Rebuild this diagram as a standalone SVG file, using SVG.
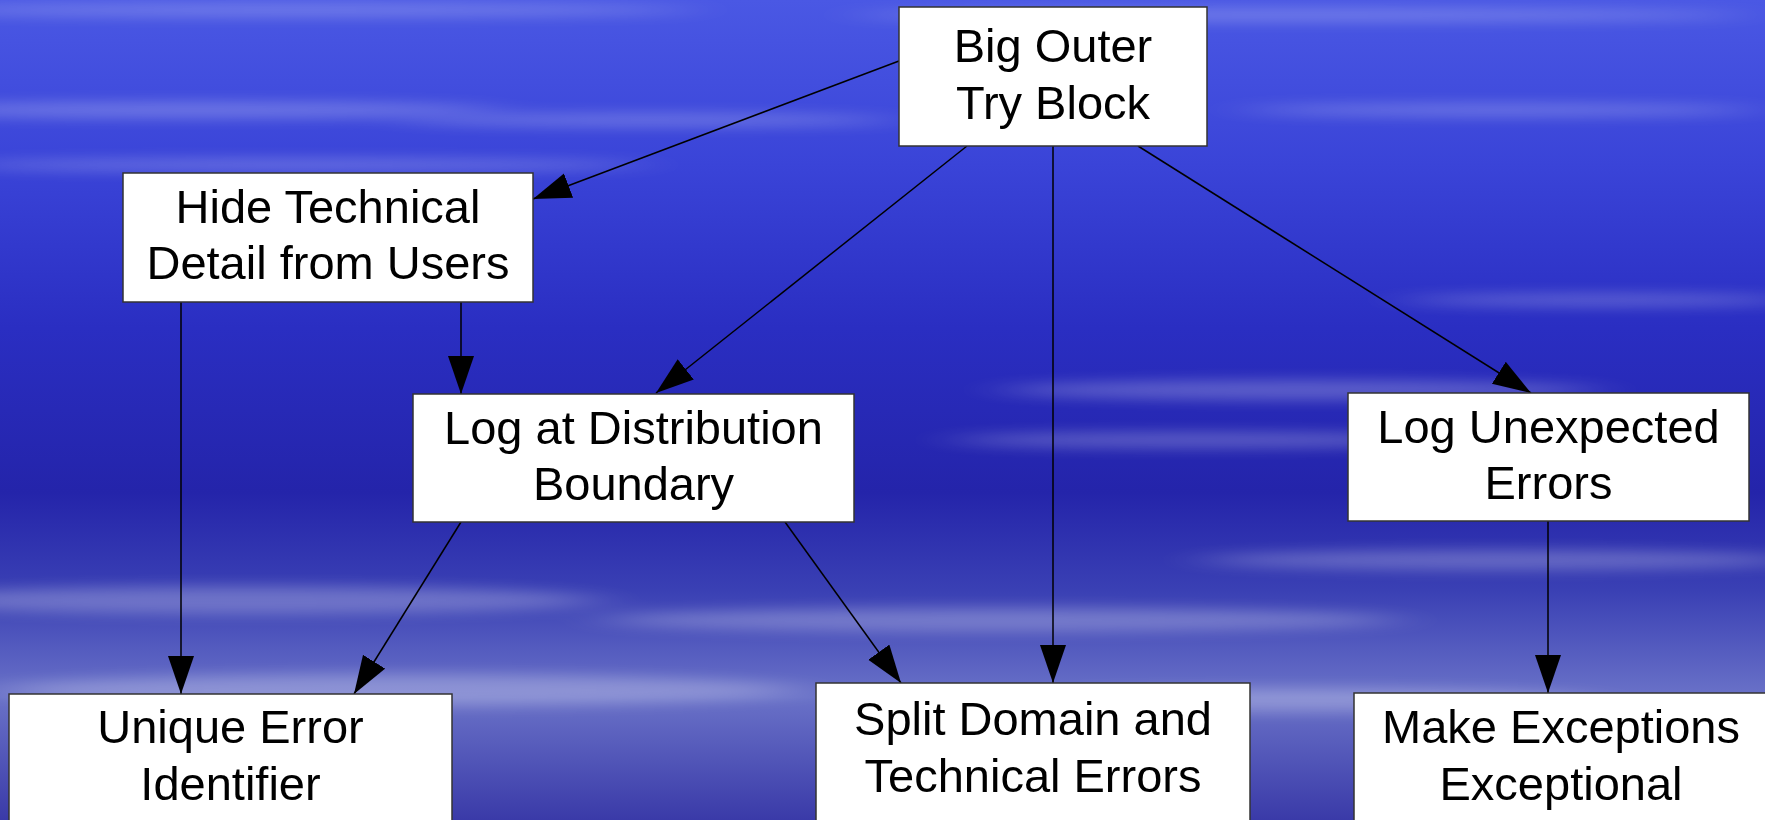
<svg xmlns="http://www.w3.org/2000/svg" width="1765" height="820" viewBox="0 0 1765 820">
<defs>
<linearGradient id="bg" x1="0" y1="0" x2="0" y2="1">
<stop offset="0" stop-color="#4a58e4"/>
<stop offset="0.2" stop-color="#3a44d8"/>
<stop offset="0.4" stop-color="#2a2ec2"/>
<stop offset="0.6" stop-color="#2424aa"/>
<stop offset="0.72" stop-color="#3a40b4"/>
<stop offset="0.85" stop-color="#6a72c8"/>
<stop offset="1" stop-color="#3a3aa8"/>
</linearGradient>
<filter id="blur" x="-30%" y="-300%" width="160%" height="700%">
<feGaussianBlur stdDeviation="30 7"/>
</filter>
<marker id="arr" markerUnits="userSpaceOnUse" markerWidth="40" markerHeight="28" refX="38" refY="13" orient="auto">
<path d="M0,0 L38,13 L0,26 Z" fill="#000"/>
</marker>
<style>
.box{fill:#fff;stroke:#333;stroke-width:1.5}
.lbl{font-family:"Liberation Sans",Arial,sans-serif;font-size:47px;fill:#000;text-anchor:middle}
.edge{stroke:#000;stroke-width:1.5;fill:none;marker-end:url(#arr)}
.st{fill:#fff;filter:url(#blur)}
</style>
</defs>
<rect x="0" y="0" width="1765" height="820" fill="url(#bg)"/>
<g id="streaks" opacity="0.25">
<ellipse class="st" cx="300" cy="10" rx="400" ry="6"/>
<ellipse class="st" cx="1300" cy="15" rx="450" ry="6"/>
<ellipse class="st" cx="200" cy="110" rx="300" ry="8"/>
<ellipse class="st" cx="650" cy="120" rx="250" ry="6"/>
<ellipse class="st" cx="1500" cy="110" rx="260" ry="6"/>
<ellipse class="st" cx="300" cy="165" rx="350" ry="6"/>
<ellipse class="st" cx="1600" cy="300" rx="200" ry="6"/>
<ellipse class="st" cx="1300" cy="390" rx="300" ry="10"/>
<ellipse class="st" cx="1200" cy="440" rx="250" ry="8"/>
<ellipse class="st" cx="1500" cy="560" rx="300" ry="10"/>
<ellipse class="st" cx="250" cy="600" rx="350" ry="14"/>
<ellipse class="st" cx="1000" cy="620" rx="400" ry="12"/>
<ellipse class="st" cx="400" cy="690" rx="400" ry="16"/>
<ellipse class="st" cx="1300" cy="700" rx="300" ry="12"/>
</g>
<g id="connectors">
<line class="edge" x1="899" y1="61" x2="533" y2="199"/>
<line class="edge" x1="967" y1="146" x2="656" y2="393"/>
<line class="edge" x1="1053" y1="146" x2="1053" y2="683"/>
<line class="edge" x1="1138" y1="146" x2="1531" y2="393"/>
<line class="edge" x1="181" y1="302" x2="181" y2="694"/>
<line class="edge" x1="461" y1="302" x2="461" y2="394"/>
<line class="edge" x1="461" y1="522" x2="354" y2="694"/>
<line class="edge" x1="785" y1="522" x2="901" y2="683"/>
<line class="edge" x1="1548" y1="521" x2="1548" y2="693"/>
</g>
<g id="big-outer-try-block">
<rect class="box" x="899" y="7" width="308" height="139"/>
<text class="lbl" x="1053" y="62">Big Outer</text>
<text class="lbl" x="1053" y="119">Try Block</text>
</g>
<g id="hide-technical-detail">
<rect class="box" x="123" y="173" width="410" height="129"/>
<text class="lbl" x="328" y="223">Hide Technical</text>
<text class="lbl" x="328" y="279">Detail from Users</text>
</g>
<g id="log-at-distribution-boundary">
<rect class="box" x="413" y="394" width="441" height="128"/>
<text class="lbl" x="633.5" y="444">Log at Distribution</text>
<text class="lbl" x="633.5" y="500">Boundary</text>
</g>
<g id="log-unexpected-errors">
<rect class="box" x="1348" y="393" width="401" height="128"/>
<text class="lbl" x="1548.5" y="443">Log Unexpected</text>
<text class="lbl" x="1548.5" y="499">Errors</text>
</g>
<g id="unique-error-identifier">
<rect class="box" x="9" y="694" width="443" height="140"/>
<text class="lbl" x="230.5" y="743">Unique Error</text>
<text class="lbl" x="230.5" y="800">Identifier</text>
</g>
<g id="split-domain-technical-errors">
<rect class="box" x="816" y="683" width="434" height="150"/>
<text class="lbl" x="1033" y="735">Split Domain and</text>
<text class="lbl" x="1033" y="792">Technical Errors</text>
</g>
<g id="make-exceptions-exceptional">
<rect class="box" x="1354" y="693" width="414" height="140"/>
<text class="lbl" x="1561" y="743">Make Exceptions</text>
<text class="lbl" x="1561" y="800">Exceptional</text>
</g>
</svg>
